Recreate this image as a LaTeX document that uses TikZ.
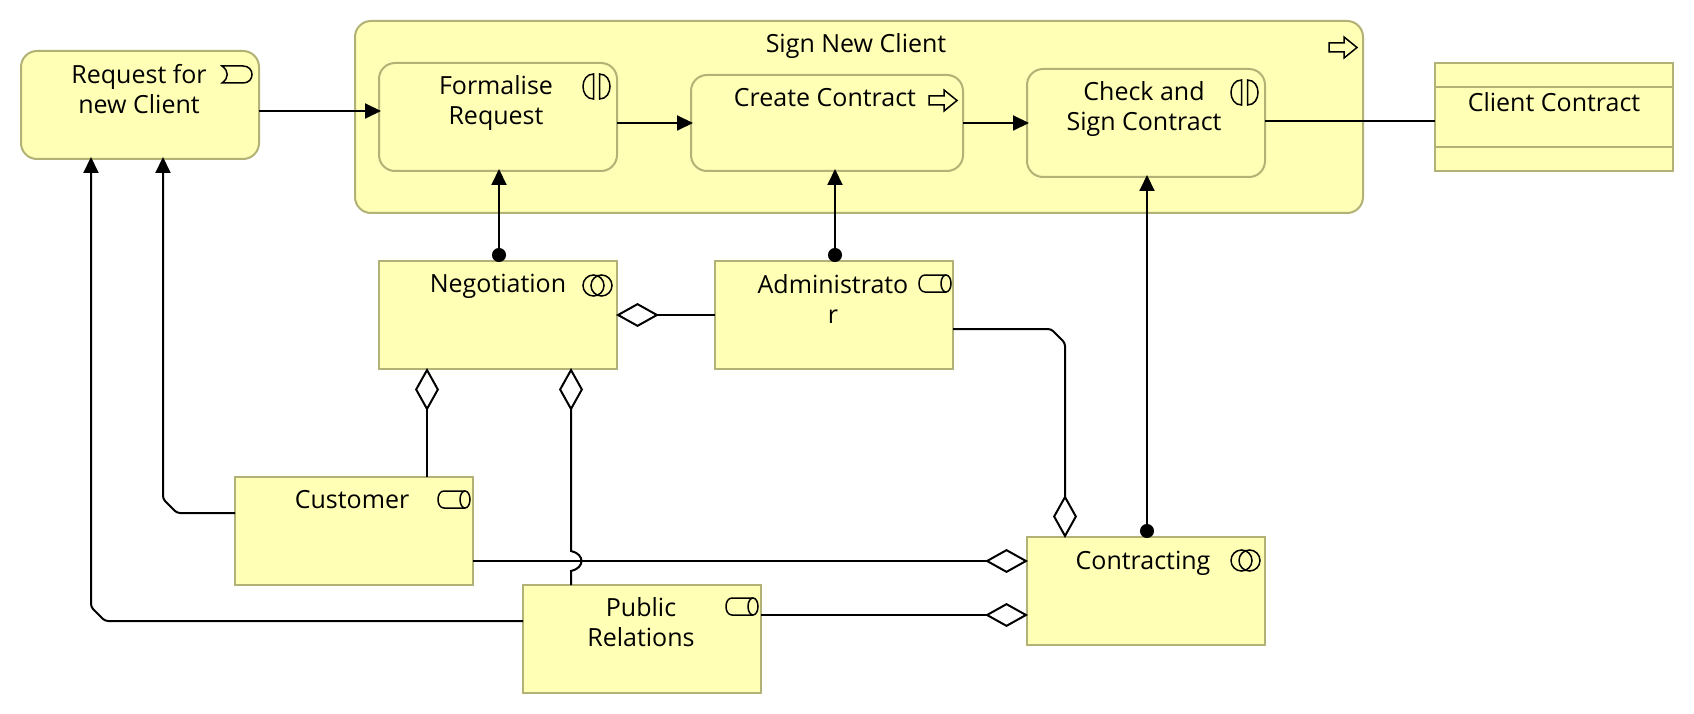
\documentclass[tikz,border=0pt]{standalone}
\usepackage{fontspec}
\setmainfont{Open Sans}
\usetikzlibrary{arrows.meta}
\definecolor{boxfill}{RGB}{255,255,181}
\definecolor{boxline}{RGB}{178,178,118}
\tikzset{
  x=1pt,y=-1pt,
  sq/.style={draw=boxline,fill=boxfill,line width=2pt,inner sep=0pt,outer sep=0pt},
  rnd/.style={sq,rounded corners=16pt},
  lbl/.style={inner sep=0pt,align=center,font=\fontsize{25}{30}\selectfont,text=black},
  conn/.style={draw=black,line width=2pt,rounded corners=3pt},
  ico/.style={draw=black,line width=1.5pt},
  trig/.style={-{Triangle[length=16pt,width=15pt]},shorten >=-2pt},
  bulltrig/.style={{Circle[length=14pt,width=14pt]}-{Triangle[length=16pt,width=15pt]},shorten >=-2pt,shorten <=-1pt},
  diam/.style={-{Diamond[open,fill=white,length=43pt,width=24pt,line width=2pt]},shorten >=-1pt},
}
\newcommand{\roleicon}[2]{\begin{scope}[shift={(#1,#2)}]
  \draw[ico] (27,0) -- (6,0) .. controls (-2,0) and (-2,17) .. (6,17) -- (27,17);
  \draw[ico] (27,8.5) ellipse [x radius=5pt,y radius=8.5pt];
\end{scope}}
\newcommand{\eventicon}[2]{\begin{scope}[shift={(#1,#2)}]
  \draw[ico] (0,0) -- (21,0) .. controls (33,0) and (33,17) .. (21,17) -- (0,17) .. controls (7,12) and (7,5) .. (0,0) -- cycle;
\end{scope}}
\newcommand{\procicon}[2]{\begin{scope}[shift={(#1,#2)}]
  \draw[ico,line join=miter] (0,6) -- (15,6) -- (15,0) -- (28,10.5) -- (15,21) -- (15,15) -- (0,15) -- cycle;
\end{scope}}
\newcommand{\intericon}[2]{\begin{scope}[shift={(#1,#2)}]
  \draw[ico] (10.5,0) .. controls (-3.5,0) and (-3.5,25) .. (10.5,25) -- cycle;
  \draw[ico] (16.5,0) .. controls (30.5,0) and (30.5,25) .. (16.5,25) -- cycle;
\end{scope}}
\newcommand{\collabicon}[2]{\begin{scope}[shift={(#1,#2)}]
  \draw[ico] (10.5,10.5) circle [radius=10.5pt];
  \draw[ico] (18.5,10.5) circle [radius=10.5pt];
\end{scope}}
\begin{document}
\begin{tikzpicture}
\useasboundingbox[fill=white] (0,0) rectangle (1694,714);
% boxes
\node[rnd,minimum width=238pt,minimum height=108pt] (req) at (140,105) {};
\node[rnd,minimum width=1008pt,minimum height=192pt] (sign) at (859,117) {};
\node[rnd,minimum width=238pt,minimum height=108pt] (form) at (498,117) {};
\node[rnd,minimum width=272pt,minimum height=96pt] (creat) at (827,123) {};
\node[rnd,minimum width=238pt,minimum height=108pt] (check) at (1146,123) {};
\node[sq,minimum width=238pt,minimum height=108pt] (cc) at (1554,117) {};
\node[sq,minimum width=238pt,minimum height=108pt] (nego) at (498,315) {};
\node[sq,minimum width=238pt,minimum height=108pt] (admin) at (834,315) {};
\node[sq,minimum width=238pt,minimum height=108pt] (cust) at (354,531) {};
\node[sq,minimum width=238pt,minimum height=108pt] (pub) at (642,639) {};
\node[sq,minimum width=238pt,minimum height=108pt] (contr) at (1146,591) {};
\draw[draw=boxline,line width=2pt] ([yshift=30pt]cc.west) -- ([yshift=30pt]cc.east);
\draw[draw=boxline,line width=2pt] ([yshift=-30pt]cc.west) -- ([yshift=-30pt]cc.east);
% labels
\node[lbl] (treq) at (139,89) {Request for\\new Client};
\node[lbl] (tsign) at (856,46) {Sign New Client};
\node[lbl] (tform) at (496,103) {Formalise\\Request};
\node[lbl] (tcreat) at (825,98) {Create Contract};
\node[lbl] (tcheck) at (1144,109) {Check and\\Sign Contract};
\node[lbl] (tcc) at (1554,102) {Client Contract};
\node[lbl] (tnego) at (498,286) {Negotiation};
\node[lbl] (tadmin) at (833,299) {Administrato\\r};
\node[lbl] (tcust) at (352,500) {Customer};
\node[lbl] (tpub) at (641,622) {Public\\Relations};
\node[lbl] (tcontr) at (1143,563) {Contracting};
% icons
\eventicon{222}{66}
\procicon{1329}{37}
\procicon{929}{90}
\intericon{583}{74}
\intericon{1231}{80}
\collabicon{583}{275}
\collabicon{1231}{550}
\roleicon{919}{275}
\roleicon{438}{491}
\roleicon{726}{598}
% connectors
\draw[conn,trig] ([yshift=-6pt]req.east) -- ([yshift=6pt]form.west);
\draw[conn,trig] ([yshift=-6pt]form.east) -- (creat.west);
\draw[conn,trig] (creat.east) -- (check.west);
\draw[conn] ([yshift=2pt]check.east) -- ([yshift=-4pt]cc.west);
\draw[conn,bulltrig] ([xshift=1pt]nego.north) -- ([xshift=1pt]form.south);
\draw[conn,bulltrig] ([xshift=1pt]admin.north) -- ([xshift=8pt]creat.south);
\draw[conn,bulltrig] ([xshift=1pt]contr.north) -- ([xshift=1pt]check.south);
\draw[conn,diam] (admin.west) -- (nego.east);
\draw[conn,diam] ([xshift=73pt]cust.north) -- ([xshift=-71pt]nego.south);
\draw[conn,diam,rounded corners=0pt] ([xshift=-71pt]pub.north) -- ++(0,-14) .. controls +(14,-3) and +(14,3) .. ++(0,-20) -- ([xshift=73pt]nego.south);
\draw[conn,diam] ([yshift=-14pt]admin.east) -- ++(98,0) -- ++(14,14) -- ([xshift=-81pt]contr.north);
\draw[conn,diam] ([yshift=-30pt]cust.east) -- ([yshift=30pt]contr.west);
\draw[conn,diam] ([yshift=24pt]pub.east) -- ([yshift=-24pt]contr.west);
\draw[conn,trig] ([yshift=18pt]cust.west) -- ++(-58,0) -- ++(-14,-14) -- ([xshift=23pt]req.south);
\draw[conn,trig] ([yshift=18pt]pub.west) -- ++(-418,0) -- ++(-14,-14) -- ([xshift=-49pt]req.south);
\end{tikzpicture}
\end{document}
